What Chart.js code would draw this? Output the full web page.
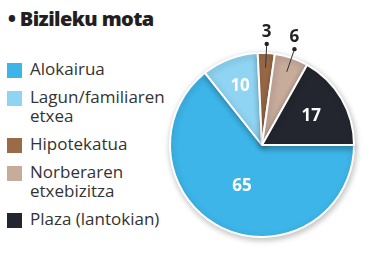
<!DOCTYPE html>
<html>
<head>
<meta charset="utf-8">
<script src="https://cdn.jsdelivr.net/npm/chart.js@4"></script>
<style>
  body { margin: 0; background: #fff; font-family: "Open Sans", sans-serif; }
  #wrap { position: relative; width: 376px; height: 273px; }
  #title { position: absolute; left: 8px; top: 5px; font-size: 20px; font-weight: 800; color: #231f20; letter-spacing: -0.6px; }
  #legend { position: absolute; left: 7px; top: 59px; }
  .item { display: flex; margin-bottom: 9px; }
  .box { width: 15px; height: 15px; margin-top: 4px; margin-right: 8px; flex: none; }
  .txt { font-size: 17px; line-height: 19px; color: #333; }
  canvas { position: absolute; left: 0; top: 0; }
</style>
</head>
<body>
<div id="wrap">
  <div id="title">• Bizileku mota</div>
  <div id="legend"></div>
  <canvas id="mycanvas" width="376" height="273"></canvas>
</div>
<script>
var labels = ['Alokairua', 'Lagun/familiaren\netxea', 'Hipotekatua', 'Norberaren\netxebizitza', 'Plaza (lantokian)'];
var values = [65, 10, 3, 6, 17];
var colors = ['#3db5e8', '#8fd4f2', '#9b6b48', '#c7ab9b', '#24262f'];

// legend
var legend = document.getElementById('legend');
for (var i = 0; i < labels.length; i++) {
    var item = document.createElement('div');
    item.className = 'item';
    item.innerHTML = '<div class="box" style="background:' + colors[i] + '"></div>' +
        '<div class="txt">' + labels[i].replace('\n', '<br>') + '</div>';
    legend.appendChild(item);
}

// where the numbers sit: fraction of radius, inside or outside
var labelPos = [0.5, 0.68, 1.1, 1.1, 0.62];

var valueLabels = {
    id: 'valueLabels',
    beforeDatasetsDraw: function (chart) {
        var ctx = chart.ctx;
        ctx.save();
        ctx.shadowColor = 'rgba(0,0,0,0.25)';
        ctx.shadowBlur = 6;
        ctx.shadowOffsetX = 1;
        ctx.shadowOffsetY = 2;
    },
    afterDatasetsDraw: function (chart) {
        var ctx = chart.ctx;
        ctx.restore();
        var meta = chart.getDatasetMeta(0);
        ctx.save();
        ctx.font = 'bold 17px "Open Sans"';
        ctx.textAlign = 'center';
        ctx.textBaseline = 'middle';
        meta.data.forEach(function (arc, i) {
            var a = (arc.startAngle + arc.endAngle) / 2;
            var r = arc.outerRadius;
            var f = labelPos[i];
            if (f > 1) {
                var dx = arc.x + Math.cos(a) * r * 1.1;
                var dy = arc.y + Math.sin(a) * r * 1.1;
                var ix = arc.x + Math.cos(a) * r * 0.84;
                var iy = arc.y + Math.sin(a) * r * 0.84;
                ctx.strokeStyle = '#333';
                ctx.lineWidth = 1;
                ctx.beginPath();
                ctx.moveTo(dx, dy);
                ctx.lineTo(ix, iy);
                ctx.stroke();
                ctx.fillStyle = '#222';
                ctx.beginPath();
                ctx.arc(dx, dy, 2.2, 0, Math.PI * 2);
                ctx.fill();
                ctx.fillText(values[i], dx, dy - 12);
            } else {
                ctx.fillStyle = '#fff';
                ctx.fillText(values[i], arc.x + Math.cos(a) * r * f, arc.y + Math.sin(a) * r * f);
            }
        });
        ctx.restore();
    }
};

var ctx = document.getElementById('mycanvas');
var mycanvas = new Chart(ctx, {
    type: 'pie',
    data: {
        labels: labels,
        datasets: [{
            data: values,
            backgroundColor: colors,
            borderColor: '#fff',
            borderWidth: 2
        }]
    },
    options: {
        responsive: false,
        animation: false,
        rotation: 90,
        layout: { padding: { left: 169, right: 21, top: 52, bottom: 35 } },
        plugins: {
            legend: { display: false },
            tooltip: { enabled: false }
        }
    },
    plugins: [valueLabels]
});
</script>
</body>
</html>
